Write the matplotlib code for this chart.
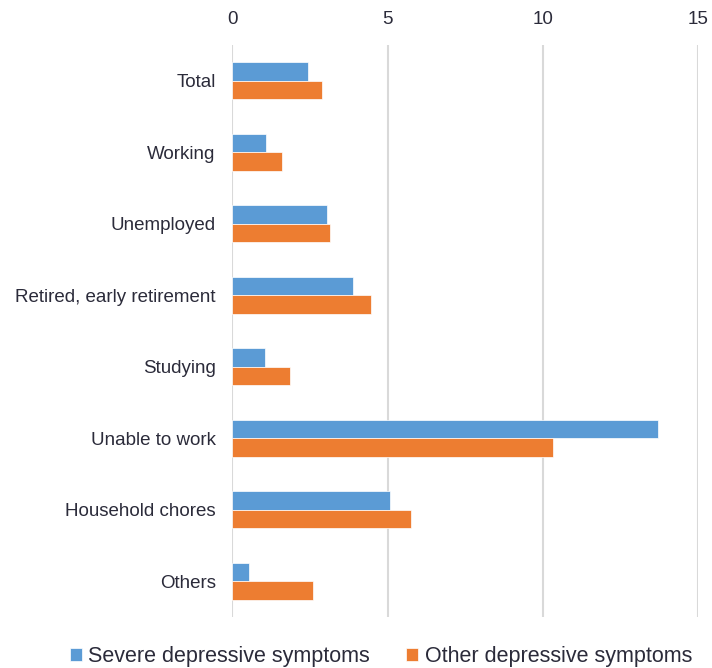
import numpy as np
import matplotlib.pyplot as plt

plt.rcParams['font.family'] = ['Liberation Sans', 'DejaVu Sans']

# data
categories = ['Total', 'Working', 'Unemployed', 'Retired, early retirement',
              'Studying', 'Unable to work', 'Household chores', 'Others']
severe = [2.45, 1.09, 3.06, 3.89, 1.05, 13.69, 5.08, 0.54]
other = [2.90, 1.61, 3.15, 4.45, 1.86, 10.33, 5.74, 2.60]

blue = '#5B9BD5'
orange = '#ED7D31'
txt = '#2b2b3a'

fig = plt.figure(figsize=(7.12, 6.68), dpi=100)
ax = fig.add_axes([0.3263, 0.0763, 0.6545, 0.8563])

y = np.arange(len(categories))
h = 0.26
ax.barh(y - h / 2, severe, height=h, color=blue, edgecolor='white', linewidth=0.5,
        label='Severe depressive symptoms', zorder=3)
ax.barh(y + h / 2, other, height=h, color=orange, edgecolor='white', linewidth=0.5,
        label='Other depressive symptoms', zorder=3)

ax.set_xlim(0, 15)
ax.set_ylim(len(categories) - 0.5, -0.5)
ax.set_yticks(y)
ax.set_yticklabels(categories, fontsize=13.5, color=txt)
ax.set_xticks([0, 5, 10, 15])
ax.xaxis.tick_top()
ax.tick_params(axis='x', length=0, pad=12, labelsize=13.5, labelcolor=txt)
ax.tick_params(axis='y', length=0, pad=12)

ax.grid(axis='x', color='#d9d9d9', linewidth=1.5, zorder=0)
for s in ax.spines.values():
    s.set_visible(False)

fig.legend(loc='lower center', bbox_to_anchor=(0.535, -0.028), ncol=2, frameon=False,
           fontsize=15.5, handlelength=0.55, handleheight=0.55, handletextpad=0.3,
           columnspacing=1.7, labelcolor=txt)

fig.savefig('out.png', dpi=100)
